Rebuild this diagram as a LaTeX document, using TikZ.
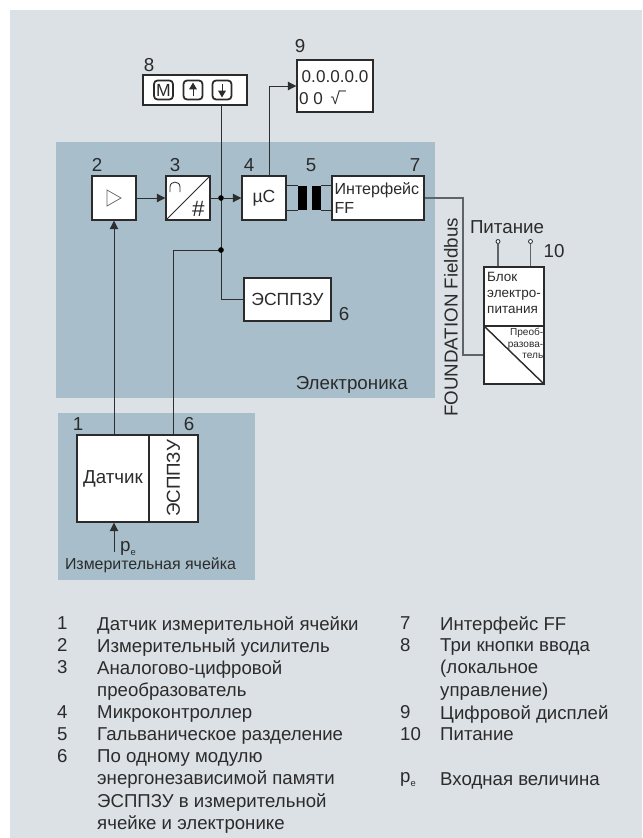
\documentclass[tikz,border=0pt]{standalone}
\usepackage{fontspec}
\setmainfont{Liberation Sans}
\usetikzlibrary{arrows.meta,positioning,calc}
\definecolor{cPageF}{HTML}{DCE1E5}
\definecolor{cPanelF}{HTML}{A8BFCB}
\definecolor{cInk}{HTML}{2B2B2B}
\definecolor{cLine}{HTML}{2E2E2E}
\definecolor{cWire}{HTML}{5F6468}
\tikzset{
  blk/.style    = {draw=cInk, fill=white, line width=1.2pt, inner sep=0pt, text=cInk,
                   font=\fontsize{15}{18}\selectfont, align=center},
  panel/.style  = {fill=cPanelF, draw=none},
  num/.style    = {text=cInk, inner sep=0pt, font=\fontsize{16}{19}\selectfont},
  wire/.style   = {cLine, line width=0.8pt},
  wireg/.style  = {cWire, line width=0.9pt},
  arr/.style    = {wire, -{Triangle[length=2.5mm,width=2.5mm]}},
  junct/.style  = {circle, fill=black, inner sep=0pt, minimum size=1.7mm},
  term/.style   = {circle, draw=cLine, fill=white, line width=0.7pt, inner sep=0pt, minimum size=1.2mm},
  btn/.style    = {draw=cInk, fill=white, line width=1.5pt, rounded corners=3pt, inner sep=0pt,
                   minimum size=5.7mm, text=cInk, font=\fontsize{15}{17}\selectfont},
  btnarr/.style = {cInk, line width=0.8pt, -{Triangle[length=2mm,width=2.3mm]}},
  bar/.style    = {fill=black, inner sep=0pt, minimum width=2.7mm, minimum height=7.2mm},
  legtxt/.style = {text=cInk, inner sep=0pt, anchor=north west, align=left,
                   font=\fontsize{15.9}{19.05}\selectfont},
}
\begin{document}
\begin{tikzpicture}[x=0.03cm,y=-0.03cm]
  \useasboundingbox (0,0) rectangle (642,838);
  \fill[white] (0,0) rectangle (642,838);
  \fill[cPageF] (10,10) rectangle (642,838);
  % panels
  \fill[panel] (56,142) rectangle (435,398);
  \fill[panel] (58,413) rectangle (255,580);
  \node[num, anchor=east] (elecLbl) at (408,385) {Электроника};
  \node[num, font=\fontsize{13.6}{16}\selectfont] (cellLbl) at (150.5,565) {Измерительная ячейка};
  % signal chain
  \node[blk, minimum width=1.32cm, minimum height=1.32cm] (amp) at (114,198) {};
  \draw[cWire, line width=0.6pt] (107,190) -- (121,198) -- (107,206) -- cycle;
  \node[blk, minimum width=1.32cm, minimum height=1.32cm] (adc) at (188,198) {};
  \draw[cInk, line width=0.7pt] (adc.south west) -- (adc.north east);
  \draw[cInk, line width=0.7pt] (170,192) -- (170,187) .. controls (170,180.5) and (180,180.5) .. (180,187) -- (180,192);
  \node[text=cInk, inner sep=0pt, font=\fontsize{19}{21}\selectfont\slshape] (adcD) at (198,209) {\#};
  \node[blk, minimum width=1.32cm, minimum height=1.32cm] (mcu) at (264,198) {µC};
  \node[bar] (barL) at (302.5,198) {};
  \node[bar] (barR) at (316.5,198) {};
  \node[blk, minimum width=2.76cm, minimum height=1.32cm, align=left, text width=2.6cm,
        font=\fontsize{13.7}{17}\selectfont] (iface) at (378,198) {Интерфейс\\FF};
  \node[blk, minimum width=2.61cm, minimum height=1.29cm] (eeprom) at (287.5,299.5) {ЭСППЗУ};
  \node[num] (n2) at (97,165) {2};
  \node[num] (n3) at (175,165) {3};
  \node[num] (n4) at (249,165) {4};
  \node[num] (n5) at (311,165) {5};
  \node[num] (n7) at (415,165) {7};
  \node[num] (n6) at (344,314) {6};
  % keys and display
  \node[blk, minimum width=3.12cm, minimum height=0.9cm] (keys) at (195,90) {};
  \node[btn] (btnM) at (163.5,90) {M};
  \node[btn] (btnU) at (193,90) {};
  \node[btn] (btnD) at (222,90) {};
  \draw[btnarr] (btnU.south) ++(0,-4) -- ($(btnU.north)+(0,3)$);
  \draw[btnarr] (btnD.north) ++(0,4) -- ($(btnD.south)+(0,-3)$);
  \node[blk, minimum width=2.28cm, minimum height=1.56cm] (disp) at (335,86) {};
  \node[num, anchor=west, font=\fontsize{14.6}{17}\selectfont] (dispA) at (301.5,77) {0.0.0.0.0};
  \node[num, anchor=west, font=\fontsize{14.6}{17}\selectfont] (dispB) at (299,98) {0 0 \,√‾};
  \node[num] (n8) at (149,65) {8};
  \node[num] (n9) at (300,46) {9};
  % measuring cell
  \node[blk, minimum width=2.16cm, minimum height=2.61cm, font=\fontsize{16}{19}\selectfont] (sens) at (113,478.5) {Датчик};
  \node[blk, minimum width=1.47cm, minimum height=2.61cm] (mem) at (173.5,478.5) {};
  \node[text=cInk, inner sep=0pt, rotate=90, font=\fontsize{16}{19}\selectfont] (memLbl) at (mem.center) {ЭСППЗУ};
  \node[num] (n1) at (78,424) {1};
  \node[num] (n6b) at (189,424) {6};
  \coordinate (peIn) at (114,552);
  \node[num, anchor=base west] (peLbl) at (120,551) {p\raisebox{-0.45ex}{\fontsize{8}{9}\selectfont e}};
  % connectors
  \coordinate (busA) at (221,198);
  \coordinate (busB) at (221,250);
  \coordinate (dispUp) at (269,176);
  \draw[wire] (keys.south -| busA) -- (busA |- eeprom.west) -- (eeprom.west);
  \draw[wire] (busB) -- (busB -| mem.north) -- (mem.north);
  \node[junct] (dotA) at (busA) {};
  \node[junct] (dotB) at (busB) {};
  \draw[arr] (amp.east) -- (adc.west);
  \draw[wire] (adc.east) -- (dotA);
  \draw[arr] (dotA) -- (mcu.west);
  \draw[arr] (sens.north -| amp.south) -- (amp.south);
  \draw[arr] (dispUp) |- (disp.west);
  \draw[arr] (peIn) -- (peIn |- sens.south);
  % separation
  \draw[wire, line width=0.9pt] (barL.north west -| mcu.east) -- (barL.north west);
  \draw[wire, line width=0.9pt] (barL.south west -| mcu.east) -- (barL.south west);
  \draw[wire, line width=0.9pt] (barR.north east) -- (barR.north east -| iface.west);
  \draw[wire, line width=0.9pt] (barR.south east) -- (barR.south east -| iface.west);
  % power supply
  \node[blk, minimum width=1.8cm, minimum height=1.77cm] (psu) at (514,296.5) {};
  \node[blk, minimum width=1.8cm, minimum height=1.74cm] (conv) at (514,355) {};
  \draw[cInk, line width=1.2pt] (conv.north west) -- (conv.south east);
  \node[text=cInk, inner sep=0pt, anchor=north west, align=left,
        font=\fontsize{11.5}{13.6}\selectfont] (psuLbl) at (487,272) {Блок\\электро-\\питания};
  \node[text=cInk, inner sep=0pt, anchor=north east, align=right,
        font=\fontsize{8.6}{9.9}\selectfont] (convLbl) at (543.5,328) {Преоб-\\разова-\\тель};
  \node[term] (termA) at (498,241.5) {};
  \node[term] (termB) at (530.5,241.5) {};
  \draw[wireg] (termA) -- (termA |- psu.north);
  \draw[wireg] (termB) -- (termB |- psu.north);
  \node[num] (pwrLbl) at (507,227) {Питание};
  \node[num] (n10) at (554,251) {10};
  \coordinate (busFF) at (463,198);
  \draw[wireg] (iface.east) -- (busFF) -- (busFF |- conv.west) -- (conv.west);
  \node[num, rotate=90, anchor=west] (ffLbl) at (451,417) {FOUNDATION Fieldbus};
  % legend
  \foreach \k/\t/\yy in {1/Датчик измерительной ячейки/616,
      2/Измерительный усилитель/638.5,
      3/{Аналогово-цифровой\\преобразователь}/660.5,
      4/Микроконтроллер/705,
      5/Гальваническое разделение/727.5,
      6/{По одному модулю\\энергонезависимой памяти\\ЭСППЗУ в измерительной\\ячейке и электронике}/749.5}{
    \node[legtxt] (legN\k) at (57,\yy) {\k};
    \node[legtxt] (legT\k) at (97,\yy) {\t};
  }
  \foreach \k/\t/\yy in {7/Интерфейс FF/616,
      8/{Три кнопки ввода\\(локальное\\управление)}/638.5,
      9/Цифровой дисплей/705,
      10/Питание/727.5}{
    \node[legtxt] (legN\k) at (400,\yy) {\k};
    \node[legtxt] (legT\k) at (440,\yy) {\t};
  }
  \node[legtxt] (legNp) at (400,772) {p\raisebox{-0.45ex}{\fontsize{8}{9}\selectfont e}};
  \node[legtxt] (legTp) at (440,772) {Входная величина};
\end{tikzpicture}
\end{document}
